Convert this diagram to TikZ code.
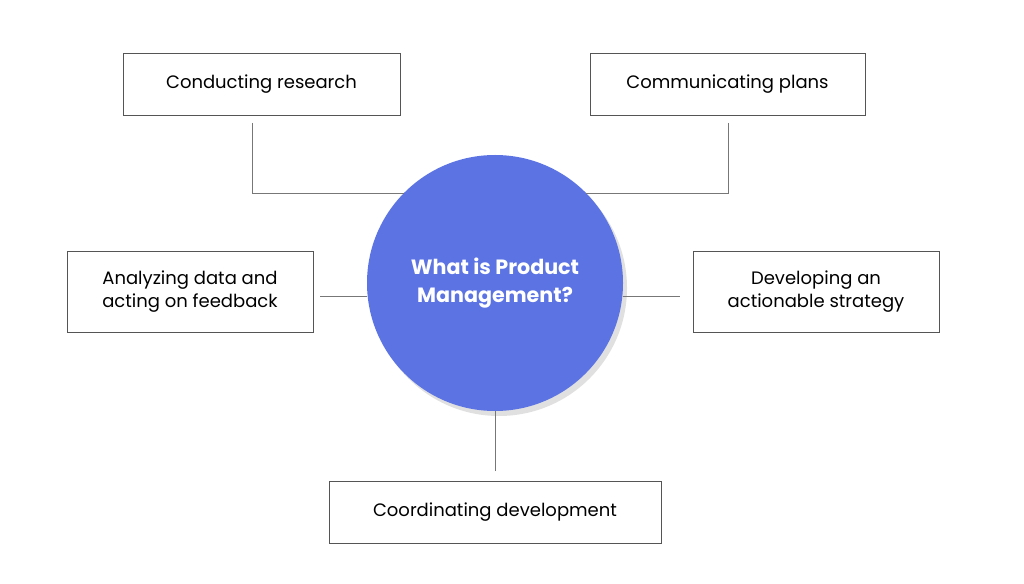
\documentclass[tikz,border=0pt]{standalone}
\usepackage{fontspec}
\setmainfont{Poppins}
\usetikzlibrary{positioning,calc}
\definecolor{pmblue}{HTML}{5B73E3}
\definecolor{boxline}{HTML}{555555}

\begin{document}
\begin{tikzpicture}[x=0.75pt,y=-0.75pt]
	\tikzstyle{task}=[draw=boxline,line width=0.6pt,align=center,font=\fontsize{13.5}{17}\selectfont,inner sep=0pt]
	\tikzstyle{link}=[draw=boxline!80,line width=0.6pt]
	\useasboundingbox (0,0) rectangle (1024,584);
		\fill[black!12] (499,288) circle (128);
		\node[circle,fill=pmblue,minimum size=192pt,text=white,align=center,font=\fontsize{15.5}{21}\selectfont\bfseries] (pm) at (495,283) {What is Product\\Management?};
		\node[task,minimum width=207.75pt,minimum height=46.5pt] (res) at (261.5,84) {Conducting research};
		\node[task,minimum width=206.25pt,minimum height=46.5pt] (plan) at (727.5,84) {Communicating plans};
		\node[task,minimum width=184.5pt,minimum height=60.75pt] (data) at (190,291.5) {Analyzing data and\\acting on feedback};
		\node[task,minimum width=184.5pt,minimum height=60.75pt] (strat) at (816,291.5) {Developing an\\actionable strategy};
		\node[task,minimum width=249pt,minimum height=46.5pt] (dev) at (495,512) {Coordinating development};
		\coordinate (res_a) at (252,123);
		\coordinate (res_b) at (404,193);
		\coordinate (plan_a) at (728,123);
		\coordinate (plan_b) at (586,193);
		\coordinate (data_a) at (320,296);
		\coordinate (strat_a) at (680,296);
		\coordinate (dev_a) at (495,471);
			\draw[link] (res_a) |- (res_b);
			\draw[link] (plan_a) |- (plan_b);
			\draw[link] (data_a) -- (data_a -| pm.west);
			\draw[link] (strat_a) -- (strat_a -| pm.east);
			\draw[link] (dev_a) -- (pm.south);
\end{tikzpicture}
\end{document}
